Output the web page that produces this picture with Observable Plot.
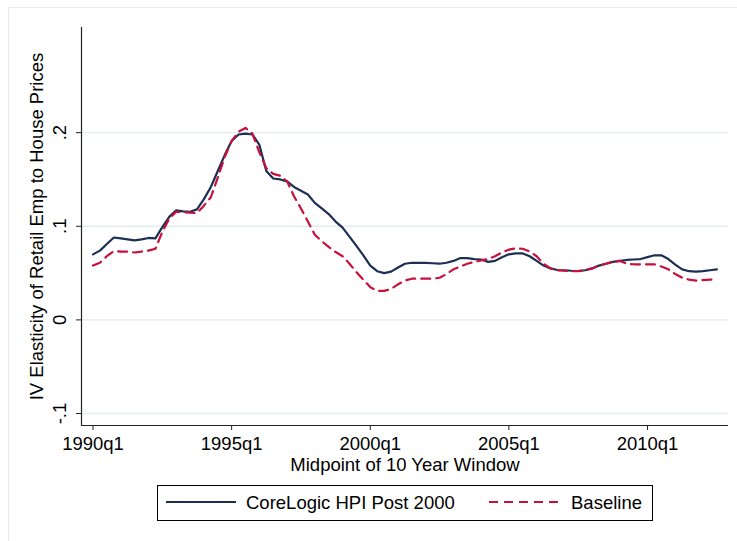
<!DOCTYPE html>
<html><head><meta charset="utf-8">
<script src="https://cdn.jsdelivr.net/npm/d3@7"></script>
<script src="https://cdn.jsdelivr.net/npm/@observablehq/plot@0.6"></script>
<style>
body{margin:0;background:#fff;font-family:"Liberation Sans",Arial,sans-serif;}
#wrap{position:relative;width:737px;height:541px;overflow:hidden;background:#fff;}
#frame{position:absolute;left:8px;top:7px;width:760px;height:560px;border-left:1px solid #e3ebee;border-top:1px solid #e3ebee;pointer-events:none;}
#legend{position:absolute;left:157px;top:485px;width:494px;height:34px;border:1px solid #000;background:#fff;}
#legend span{position:absolute;top:0;font-size:18.5px;line-height:34px;color:#000;white-space:nowrap;}
#legend svg{position:absolute;left:0;top:0;}
</style></head>
<body><div id="wrap"><div id="chart"></div><div id="legend"></div><div id="frame"></div></div>
<script>
const startYear = 1990;
const xTicks = [1990, 1995, 2000, 2005, 2010];
const xTickLabels = ["1990q1", "1995q1", "2000q1", "2005q1", "2010q1"];
const yTicks = [-0.1, 0, 0.1, 0.2];
const yTickLabels = ["-.1", "0", ".1", ".2"];
const seriesNames = ["CoreLogic HPI Post 2000", "Baseline"];
const seriesColors = ["#1d2f52", "#c8103c"];
const xTitle = "Midpoint of 10 Year Window";
const yTitle = "IV Elasticity of Retail Emp to House Prices";

// quarterly values, 1990q1 .. 2012q3
const corelogic = [
  .070,.074,.081,.088,.087,.086,.085,.086,.0875,.087,
  .099,.110,.117,.116,.1155,.118,.129,.142,.159,.176,
  .191,.198,.199,.198,.187,.159,.151,.150,.148,.142,
  .138,.134,.125,.119,.113,.105,.0985,.089,.079,.069,
  .058,.052,.050,.0515,.056,.060,.061,.061,.061,.0605,
  .060,.061,.063,.066,.066,.065,.0645,.062,.063,.067,
  .070,.071,.071,.068,.063,.058,.055,.0533,.053,.0525,
  .0522,.053,.055,.058,.060,.062,.063,.064,.0645,.065,
  .067,.069,.069,.065,.059,.054,.052,.0515,.052,.053,
  .054
];
const baseline = [
  .058,.061,.068,.0735,.073,.073,.072,.073,.074,.076,
  .094,.108,.1155,.115,.1145,.114,.122,.131,.152,.174,
  .191,.201,.205,.199,.179,.162,.156,.154,.148,.132,
  .119,.105,.091,.084,.078,.0725,.068,.060,.051,.043,
  .035,.031,.031,.033,.038,.042,.044,.044,.044,.044,
  .045,.049,.054,.057,.060,.062,.0635,.065,.068,.072,
  .075,.0765,.076,.073,.068,.060,.055,.053,.0525,.052,
  .052,.053,.055,.058,.060,.062,.063,.060,.0594,.0594,
  .0594,.0594,.057,.054,.049,.045,.043,.042,.0425,.043,
  .0434
];

const rowsA = corelogic.map((v, i) => ({t: startYear + i / 4, v}));
const rowsB = baseline.map((v, i) => ({t: startYear + i / 4, v}));

const xDomain = [1989.585, 2012.92];
const yDomain = [-0.1128, 0.3123];

const chart = Plot.plot({
  width: 737, height: 480,
  marginTop: 27, marginBottom: 55, marginLeft: 81, marginRight: 9,
  style: {fontFamily: "Liberation Sans, Arial, sans-serif", fontSize: "18.5px", background: "transparent", color: "#000", overflow: "visible"},
  x: {domain: xDomain},
  y: {domain: yDomain},
  marks: [
    Plot.ruleY(yTicks, {stroke: "#e3ecef", strokeWidth: 1.3}),
    Plot.ruleX([xDomain[0]], {stroke: "#222", strokeWidth: 1.2}),
    Plot.ruleY([yDomain[0]], {stroke: "#222", strokeWidth: 1.2}),
    Plot.axisX({ticks: xTicks, tickFormat: d => xTickLabels[xTicks.indexOf(d)], tickSize: 5, tickPadding: 6, fontSize: 18.5, label: null, stroke: "#222"}),
    Plot.axisY({ticks: yTicks, tickFormat: () => "", tickSize: 5, label: null, stroke: "#222"}),
    Plot.text(yTicks, {y: d => d, text: (d, i) => yTickLabels[i], frameAnchor: "left", textAnchor: "middle", lineAnchor: "middle", dx: -21, rotate: -90, fontSize: 18.5, fill: "#000"}),
    Plot.text([yTitle], {frameAnchor: "left", textAnchor: "middle", lineAnchor: "middle", dx: -44, rotate: -90, fontSize: 18.5, fill: "#000"}),
    Plot.text([xTitle], {frameAnchor: "bottom", textAnchor: "middle", lineAnchor: "middle", dy: 39.5, fontSize: 18.5, fill: "#000"}),
    Plot.line(rowsA, {x: "t", y: "v", stroke: seriesColors[0], strokeWidth: 2.2}),
    Plot.line(rowsB, {x: "t", y: "v", stroke: seriesColors[1], strokeWidth: 2.2, strokeDasharray: "9,6"})
  ]
});
document.getElementById("chart").appendChild(chart);

// legend
const lg = document.getElementById("legend");
lg.innerHTML = `<svg width="494" height="34">
  <line x1="8" x2="78" y1="16" y2="16" stroke="${seriesColors[0]}" stroke-width="2.2"/>
  <line x1="331" x2="401" y1="16" y2="16" stroke="${seriesColors[1]}" stroke-width="2.2" stroke-dasharray="9,6"/>
</svg><span style="left:88px">${seriesNames[0]}</span><span style="left:413px">${seriesNames[1]}</span>`;
</script>
</body></html>
